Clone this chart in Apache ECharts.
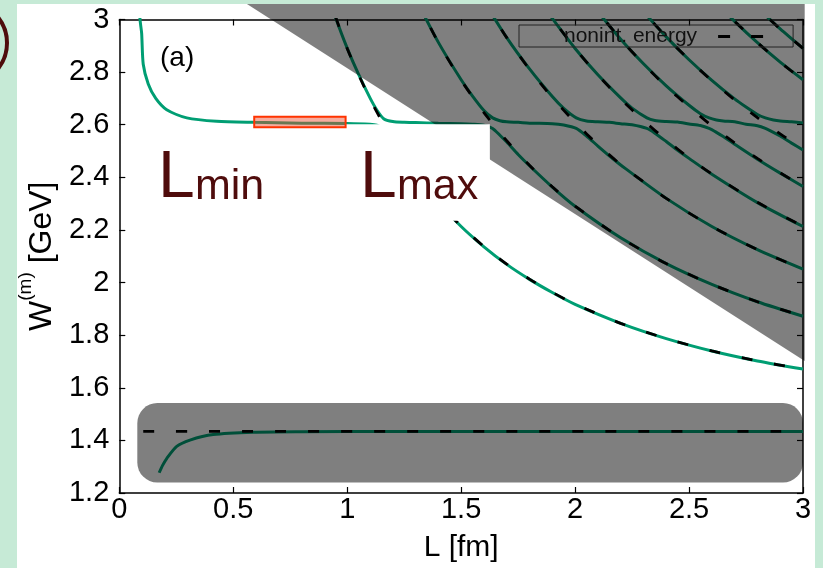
<!DOCTYPE html>
<html><head><meta charset="utf-8">
<script src="https://cdn.jsdelivr.net/npm/echarts@6.0.0/dist/echarts.min.js"></script>
<style>
html,body{margin:0;padding:0;width:823px;height:568px;overflow:hidden;background:#c6ead6;}
#panel{position:absolute;left:17px;top:4px;width:798px;height:564px;background:#fff;}
#chart{position:absolute;left:0;top:0;width:823px;height:568px;}
</style></head><body>
<div id="panel"></div><div id="chart"></div>
<script>
// ---------- tick labels ----------
const xTickLabels = ['0','0.5','1','1.5','2','2.5','3'];
const yTickLabels = ['1.2','1.4','1.6','1.8','2','2.2','2.4','2.6','2.8','3'];

// ---------- interacting levels (green, solid) [L fm, W GeV] ----------
const levelBound = [[0.175,1.277],[0.19,1.305],[0.208,1.331],[0.252,1.377],[0.31,1.401],[0.412,1.422],[0.588,1.431],[0.8,1.433],[1.2,1.434],[3.0,1.434]];
const level1 = [[0.087,3.10],[0.091,3.0],[0.098,2.948],[0.105,2.83],[0.127,2.755],[0.16,2.70],[0.208,2.657],[0.296,2.626],[0.427,2.613],[0.588,2.609],[0.8,2.606],[1.0,2.605],[1.1,2.602],[1.13,2.598],[1.16,2.583],[1.2,2.536],[1.25,2.471],[1.3,2.411],[1.4,2.304],[1.5,2.213],[1.6,2.136],[1.7,2.069],[1.8,2.012],[1.9,1.962],[2.0,1.917],[2.2,1.845],[2.4,1.787],[2.6,1.740],[2.8,1.702],[3.0,1.671]];
const level2 = [[0.9,3.131],[0.95,3.005],[1.0,2.891],[1.05,2.791],[1.1,2.702],[1.13,2.656],[1.16,2.623],[1.2,2.612],[1.25,2.609],[1.3,2.608],[1.4,2.606],[1.5,2.604],[1.55,2.602],[1.6,2.598],[1.638,2.586],[1.67,2.560],[1.7,2.534],[1.75,2.487],[1.8,2.444],[1.9,2.363],[2.0,2.290],[2.2,2.170],[2.4,2.072],[2.6,1.993],[2.8,1.927],[3.0,1.872]];
const level3 = [[1.3,3.080],[1.4,2.913],[1.5,2.771],[1.55,2.709],[1.6,2.654],[1.638,2.626],[1.67,2.615],[1.7,2.611],[1.75,2.609],[1.8,2.606],[1.9,2.604],[1.95,2.599],[2.005,2.586],[2.05,2.557],[2.1,2.519],[2.15,2.482],[2.2,2.447],[2.4,2.320],[2.6,2.213],[2.8,2.125],[3.0,2.051]];
const level4 = [[1.6,3.069],[1.7,2.931],[1.8,2.812],[1.9,2.707],[1.95,2.662],[2.005,2.626],[2.05,2.614],[2.1,2.611],[2.15,2.609],[2.2,2.604],[2.25,2.600],[2.315,2.586],[2.35,2.568],[2.4,2.536],[2.45,2.503],[2.5,2.472],[2.6,2.412],[2.8,2.304],[3.0,2.213]];
const level5 = [[1.85,3.065],[1.9,3.004],[2.0,2.890],[2.1,2.790],[2.2,2.702],[2.25,2.663],[2.315,2.626],[2.35,2.616],[2.4,2.612],[2.45,2.610],[2.5,2.603],[2.55,2.597],[2.588,2.586],[2.62,2.571],[2.65,2.555],[2.7,2.526],[2.8,2.469],[2.9,2.416],[3.0,2.365]];
const level6 = [[2.05,3.087],[2.1,3.030],[2.2,2.925],[2.3,2.832],[2.4,2.748],[2.5,2.674],[2.55,2.642],[2.588,2.626],[2.62,2.618],[2.65,2.614],[2.7,2.611],[2.75,2.602],[2.8,2.596],[2.835,2.586],[2.87,2.571],[2.9,2.557],[2.95,2.530],[3.0,2.504]];
const level7 = [[2.25,3.082],[2.3,3.030],[2.4,2.934],[2.5,2.847],[2.6,2.769],[2.7,2.698],[2.75,2.667],[2.8,2.639],[2.835,2.626],[2.87,2.618],[2.9,2.614],[2.95,2.611],[3.0,2.607]];
const level8 = [[2.6,3.080],[2.7,2.993],[2.8,2.912],[2.9,2.838],[3.0,2.771]];
const level9 = [[2.75,3.087],[2.8,3.045],[2.9,2.964],[3.0,2.890]];

// ---------- non-interacting energies (black, dashed) ----------
const free0 = [[0.105,1.434],[3.0,1.434]];
const free1 = [[0.9,3.131],[1.0,2.890],[1.1,2.698],[1.2,2.542],[1.3,2.413],[1.4,2.305],[1.5,2.214],[1.6,2.137],[1.7,2.070],[1.8,2.013],[1.9,1.963],[2.0,1.918],[2.2,1.845],[2.4,1.787],[2.6,1.740],[2.8,1.702],[3.0,1.671]];
const free2 = [[1.3,3.080],[1.4,2.912],[1.5,2.769],[1.6,2.646],[1.7,2.539],[1.8,2.446],[1.9,2.364],[2.0,2.291],[2.2,2.170],[2.4,2.072],[2.6,1.993],[2.8,1.927],[3.0,1.872]];
const free3 = [[1.6,3.069],[1.7,2.931],[1.8,2.810],[1.9,2.703],[2.0,2.609],[2.1,2.524],[2.2,2.449],[2.4,2.320],[2.6,2.213],[2.8,2.125],[3.0,2.051]];
const free4 = [[1.85,3.065],[1.9,3.004],[2.0,2.890],[2.1,2.789],[2.2,2.698],[2.3,2.616],[2.4,2.542],[2.5,2.474],[2.6,2.413],[2.8,2.305],[3.0,2.214]];
const free5 = [[2.05,3.087],[2.1,3.030],[2.2,2.925],[2.3,2.831],[2.4,2.745],[2.5,2.668],[2.6,2.596],[2.7,2.531],[2.8,2.472],[2.9,2.417],[3.0,2.366]];
const free6 = [[2.25,3.082],[2.3,3.030],[2.4,2.934],[2.5,2.847],[2.6,2.767],[2.7,2.694],[2.8,2.627],[2.9,2.565],[3.0,2.508]];
const free8 = [[2.6,3.080],[2.7,2.993],[2.8,2.912],[2.9,2.838],[3.0,2.769]];
const free9 = [[2.75,3.087],[2.8,3.045],[2.9,2.964],[3.0,2.890]];

// ---------- shaded / highlighted regions (data coords) ----------
const grayTriangle = [[0.560,3.0587],[3.0075,3.0587],[3.0075,1.7022]];
const grayBand = [[0.079,1.240,3.0,1.542]];       // [L1, W1, L2, W2]
const whiteBox = [[0.993,2.235,1.626,2.602]];
const redBox = [[0.592,2.590,0.993,2.630]];

const FONT = "'Liberation Sans', Arial, Helvetica, sans-serif";
const GREEN = '#009e73';
const MAROON = '#4f0c0c';

function greenLine(data){
  return {type:'line', data:data, symbol:'none', smooth:0.25,
    lineStyle:{color:GREEN, width:3}, itemStyle:{color:GREEN}, z:2, silent:true};
}
function dashLine(data){
  return {type:'line', name:'nonint. energy', data:data, symbol:'none', smooth:0.25,
    lineStyle:{color:'#000', width:2.8, type:[11,22]}, itemStyle:{color:'#000'}, z:3, silent:true};
}
function rectSeries(data, style, r, z){
  return {type:'custom', data:data, z:z, silent:true, clip:false,
    renderItem:function(params, api){
      const p1 = api.coord([api.value(0), api.value(3)]);
      const p2 = api.coord([api.value(2), api.value(1)]);
      return {type:'rect', shape:{x:p1[0], y:p1[1], width:p2[0]-p1[0], height:p2[1]-p1[1], r:r}, style:style};
    }};
}
function polySeries(verts, style, z){
  return {type:'custom', data:verts, z:z, silent:true, clip:false,
    renderItem:function(params, api){
      if (params.dataIndex !== 0) return null;
      const pts = verts.map(function(v){ return api.coord(v); });
      return {type:'polygon', shape:{points:pts}, style:style};
    }};
}

const chart = echarts.init(document.getElementById('chart'), null, {renderer:'canvas'});
const axisCommon = {
  type:'value', axisLine:{show:true, onZero:false, lineStyle:{color:'#000', width:1.5}},
  axisTick:{show:true, inside:true, length:6, lineStyle:{color:'#000', width:1.2}},
  splitLine:{show:false}
};
chart.setOption({
  animation:false,
  backgroundColor:'transparent',
  grid:{left:119.3, right:20, top:19.5, bottom:73.5, containLabel:false},
  xAxis:[
    Object.assign({}, axisCommon, {position:'bottom', min:0, max:3, interval:0.5,
      name:'L [fm]', nameLocation:'middle', nameGap:40,
      nameTextStyle:{fontSize:30, fontFamily:FONT, color:'#000'},
      axisLabel:{fontSize:29, fontFamily:FONT, color:'#000', margin:2,
        formatter:function(v){ return xTickLabels[Math.round(v/0.5)]; }}}),
    Object.assign({}, axisCommon, {position:'top', min:0, max:3, interval:0.5, axisLabel:{show:false}})
  ],
  yAxis:[
    Object.assign({}, axisCommon, {position:'left', min:1.2, max:3, interval:0.2,
      name:'{w|W}{s|(m)}{w| [GeV]}', nameLocation:'middle', nameGap:54, nameRotate:90,
      nameTextStyle:{fontFamily:FONT, color:'#000', rich:{
        w:{fontSize:32, fontFamily:FONT, color:'#000', lineHeight:42, verticalAlign:'bottom'},
        s:{fontSize:19, fontFamily:FONT, color:'#000', lineHeight:20, verticalAlign:'top'}}},
      axisLabel:{fontSize:29, fontFamily:FONT, color:'#000', margin:10,
        formatter:function(v){ return yTickLabels[Math.round((v-1.2)/0.2)]; }}}),
    Object.assign({}, axisCommon, {position:'right', min:1.2, max:3, interval:0.2, axisLabel:{show:false}})
  ],
  legend:{show:true, data:['nonint. energy'], left:519, top:25, orient:'horizontal', align:'right',
    padding:[1,30,0,45], itemWidth:45, itemHeight:3, selectedMode:false,
    icon:'path://M0,0H12V3H0Z M33,0H45V3H33Z',
    textStyle:{fontSize:21, fontFamily:FONT, color:'#111', padding:[0,16,0,0]},
    borderColor:'#222', borderWidth:1, z:10},
  series:[
    greenLine(levelBound), greenLine(level1), greenLine(level2), greenLine(level3), greenLine(level4),
    greenLine(level5), greenLine(level6), greenLine(level7), greenLine(level8), greenLine(level9),
    dashLine(free0), dashLine(free1), dashLine(free2), dashLine(free3), dashLine(free4),
    dashLine(free5), dashLine(free6), dashLine(free8), dashLine(free9),
    polySeries(grayTriangle, {fill:'rgba(0,0,0,0.5)'}, 5),
    rectSeries(grayBand, {fill:'rgba(0,0,0,0.5)'}, 20, 5),
    rectSeries(whiteBox, {fill:'#ffffff'}, 0, 6),
    rectSeries(redBox, {fill:'rgba(235,70,40,0.45)', stroke:'#ff3300', lineWidth:2}, 0, 7)
  ],
  graphic:[
    {type:'circle', shape:{cx:-34, cy:43, r:41}, style:{fill:'none', stroke:MAROON, lineWidth:4}, z:100, silent:true},
    {type:'text', x:160, y:58, z:100, silent:true, style:{text:'(a)', fontSize:28, fontFamily:FONT, fill:'#000', align:'left', verticalAlign:'middle'}},
    {type:'text', x:158, y:179, z:100, silent:true, style:{text:'L', fontSize:66, fontFamily:FONT, fill:MAROON, align:'left', verticalAlign:'middle'}},
    {type:'text', x:195, y:187, z:100, silent:true, style:{text:'min', fontSize:43, fontFamily:FONT, fill:MAROON, align:'left', verticalAlign:'middle'}},
    {type:'text', x:360, y:179, z:100, silent:true, style:{text:'L', fontSize:66, fontFamily:FONT, fill:MAROON, align:'left', verticalAlign:'middle'}},
    {type:'text', x:397, y:187, z:100, silent:true, style:{text:'max', fontSize:43, fontFamily:FONT, fill:MAROON, align:'left', verticalAlign:'middle'}}
  ]
});
</script></body></html>
